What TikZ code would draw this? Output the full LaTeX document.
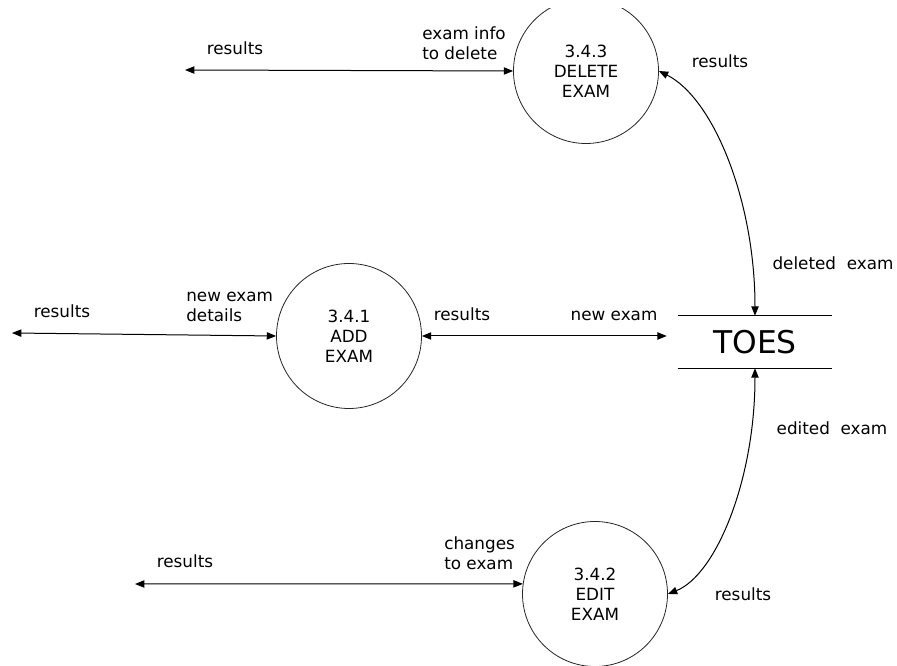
\documentclass[tikz,border=0pt]{standalone}
\usepackage{fontspec}
\setmainfont{DejaVu Sans}
\usetikzlibrary{arrows.meta}
\begin{document}
\begin{tikzpicture}[x=0.75pt,y=-0.75pt,
  proc/.style={circle,draw=black!85,line width=0.6pt,minimum size=108.75pt,inner sep=0pt,align=center,
    font=\fontsize{12.6}{15}\selectfont},
  flow/.style={line width=0.75pt,{Triangle[length=7pt,width=5.5pt]}-{Triangle[length=7pt,width=5.5pt]}},
  lbl/.style={inner sep=0pt,font=\fontsize{12.6}{15}\selectfont},
  mlbl/.style={inner sep=0pt,align=left,anchor=west,font=\fontsize{12.6}{15}\selectfont}]
\useasboundingbox (0,0) rectangle (897,666);
% processes
\begin{scope}
  \clip (0,9) rectangle (897,666);
  \node[proc] (del) at (586,71) {3.4.3\\DELETE\\EXAM};
\end{scope}
\node[proc] (add) at (349,336) {3.4.1\\ADD\\EXAM};
\node[proc] (edit) at (595,594) {3.4.2\\EDIT\\EXAM};
% data store
\node[minimum width=115.5pt,minimum height=39pt,inner sep=0pt,font=\fontsize{23.5}{28}\selectfont] (toes) at (755,342) {TOES};
\draw[line width=0.75pt] (toes.north west) -- (toes.north east);
\draw[line width=0.75pt] (toes.south west) -- (toes.south east);
% free ends
\coordinate (tl) at (185,70);
\coordinate (ml) at (12,333);
\coordinate (bl) at (135,584);
% connectors
\draw[flow] (tl) -- (del.west);
\draw[flow] (ml) -- (add.west);
\draw[flow] (add.east) -- ([xshift=-8.25pt]add.east -| toes.west);
\draw[flow] (bl) -- (edit.172);
\draw[flow] (toes.north) .. controls +(0,-116) and +(54,27) .. (del.east);
\draw[flow] (toes.south) .. controls +(0,112) and +(48,-19) .. (edit.east);
% labels
\node[lbl,anchor=base] (l1) at (235,54.5) {results};
\node[mlbl] (l2) at (422,46) {\strut exam info\\\strut to delete};
\node[lbl,anchor=base] (l3) at (62,318) {results};
\node[mlbl] (l4) at (186,308) {\strut new exam\\\strut details};
\node[lbl,anchor=base] (l5) at (462,321) {results};
\node[lbl,anchor=base] (l6) at (614,321) {new exam};
\node[lbl,anchor=base] (l7) at (720,68) {results};
\node[lbl,anchor=base] (l8) at (833,270) {deleted\ \ exam};
\node[lbl,anchor=base] (l9) at (832,435) {edited\ \ exam};
\node[lbl,anchor=base] (l10) at (743,601) {results};
\node[lbl,anchor=base] (l11) at (185,568) {results};
\node[mlbl] (l12) at (444,556) {\strut changes\\\strut to exam};
\end{tikzpicture}
\end{document}
